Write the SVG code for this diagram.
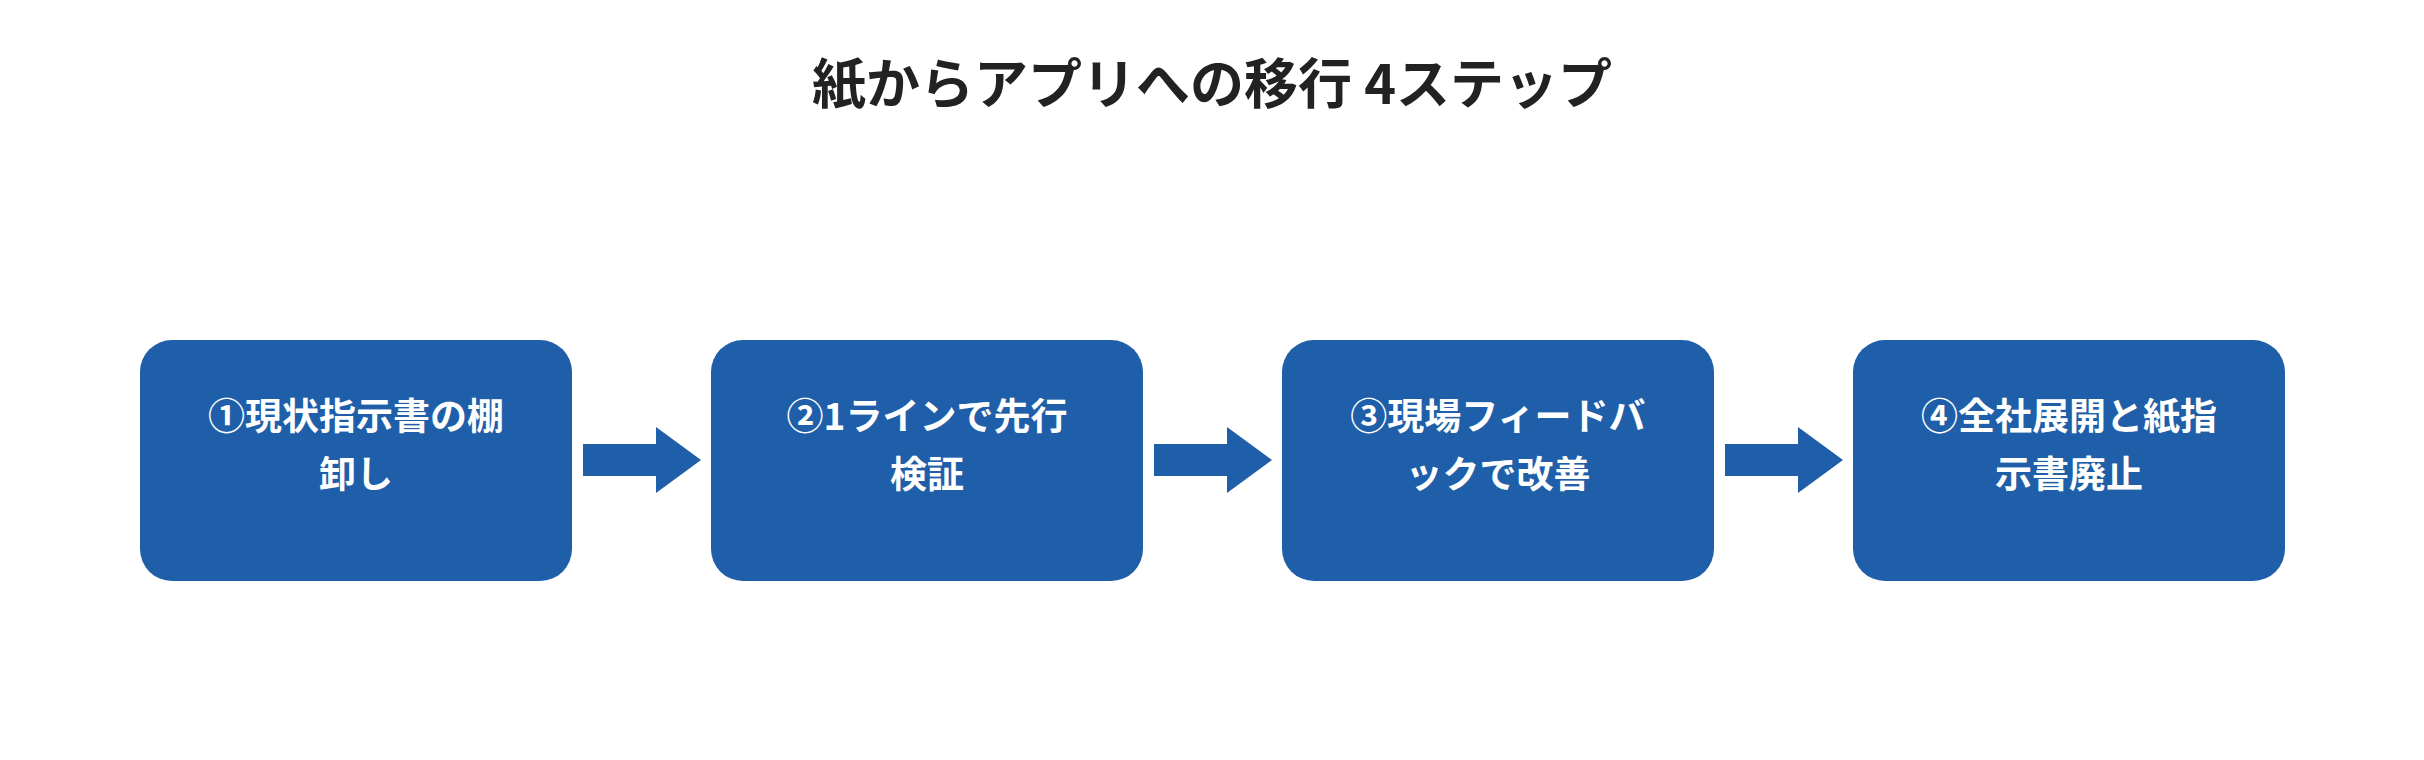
<svg xmlns="http://www.w3.org/2000/svg" width="2424" height="760" viewBox="0 0 2424 760">
<style>
.box{fill:#1f5ea8}
.t{font-family:"Noto Sans CJK JP","Noto Sans",sans-serif;font-weight:bold;fill:#fff;font-size:37px;text-anchor:middle}
.title{font-family:"Noto Sans CJK JP","Noto Sans",sans-serif;font-weight:bold;fill:#222;font-size:54px;text-anchor:middle}
.arr{fill:#1f5ea8}
</style>
<rect width="2424" height="760" fill="#fff"/>
<text class="title" x="1212" y="104">紙からアプリへの移行 4ステップ</text>
<g id="n1"><rect class="box" x="140" y="340" width="432" height="241" rx="32"/><text class="t" x="356" y="430">①現状指示書の棚</text><text class="t" x="356" y="488">卸し</text></g>
<g id="n2"><rect class="box" x="711" y="340" width="432" height="241" rx="32"/><text class="t" x="927" y="430">②1ラインで先行</text><text class="t" x="927" y="488">検証</text></g>
<g id="n3"><rect class="box" x="1282" y="340" width="432" height="241" rx="32"/><text class="t" x="1498" y="430">③現場フィードバ</text><text class="t" x="1498" y="488">ックで改善</text></g>
<g id="n4"><rect class="box" x="1853" y="340" width="432" height="241" rx="32"/><text class="t" x="2069" y="430">④全社展開と紙指</text><text class="t" x="2069" y="488">示書廃止</text></g>
<g id="connectors">
<polygon class="arr" points="583,444 656,444 656,427 701,460 656,493 656,476 583,476"/>
<polygon class="arr" points="1154,444 1227,444 1227,427 1272,460 1227,493 1227,476 1154,476"/>
<polygon class="arr" points="1725,444 1798,444 1798,427 1843,460 1798,493 1798,476 1725,476"/>
</g>
</svg>
